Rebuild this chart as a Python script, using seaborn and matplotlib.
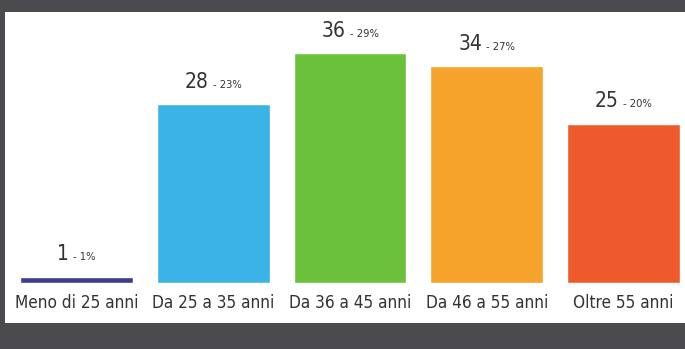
import matplotlib
matplotlib.use("Agg")
import matplotlib.pyplot as plt
import seaborn as sns
import pandas as pd
from matplotlib.patches import Rectangle
from matplotlib.offsetbox import TextArea, HPacker, AnnotationBbox

categories = ["Meno di 25 anni", "Da 25 a 35 anni", "Da 36 a 45 anni", "Da 46 a 55 anni", "Oltre 55 anni"]
counts = [1, 28, 36, 34, 25]
percents = ["1%", "23%", "29%", "27%", "20%"]
colors = ["#3d3d90", "#3bb3e6", "#6cc13b", "#f5a32a", "#ef5a2d"]

sns.set_style("white")
FONT = ["DejaVu Sans"]
plt.rcParams["font.family"] = FONT
plt.rcParams["font.stretch"] = "condensed"

W, H = 685, 349
fig = plt.figure(figsize=(W / 100, H / 100), dpi=100, facecolor="#4b4a4f")
panel = Rectangle((5 / W, (H - 323) / H), 1, (323 - 12) / H,
                  transform=fig.transFigure, facecolor="white",
                  edgecolor="none", zorder=-10)
fig.patches.append(panel)

ax_left, ax_right = 5, 685
ax_bottom_px = H - 283
ax_top_px = H - 12
ax = fig.add_axes([ax_left / W, ax_bottom_px / H, (ax_right - ax_left) / W,
                   (ax_top_px - ax_bottom_px) / H])
ax.set_zorder(5)
ax.patch.set_alpha(0)

df = pd.DataFrame({"cat": categories, "n": counts})
sns.barplot(data=df, x="cat", y="n", hue="cat", palette=colors, legend=False,
            width=0.826, ax=ax, saturation=1)

per_unit = 136.75
x0 = -(76.5 - ax_left) / per_unit
ax.set_xlim(x0, x0 + (ax_right - ax_left) / per_unit)
px_per_val = 6.38
ax.set_ylim(0, (ax_top_px - ax_bottom_px) / px_per_val)

for s in ax.spines.values():
    s.set_visible(False)
ax.set_xlabel("")
ax.set_ylabel("")
ax.set_yticks([])
ax.tick_params(axis="x", length=0, pad=8)
ax.set_xticks(range(len(categories)))
ax.set_xticklabels(categories, fontsize=12.3, color="#333333",
                   fontstretch="condensed")

for i, (n, p) in enumerate(zip(counts, percents)):
    t1 = TextArea(str(n), textprops=dict(fontsize=15, color="#333333",
                                         fontstretch="condensed"))
    t2 = TextArea("- " + p, textprops=dict(fontsize=8, color="#333333",
                                           fontstretch="condensed"))
    box = HPacker(children=[t1, t2], align="baseline", pad=0, sep=3)
    ab = AnnotationBbox(box, (i, n), xybox=(0, 9), xycoords="data",
                        boxcoords="offset points", box_alignment=(0.5, 0),
                        frameon=False, annotation_clip=False)
    ax.add_artist(ab)

fig.savefig("out.png", dpi=100, facecolor=fig.get_facecolor())
